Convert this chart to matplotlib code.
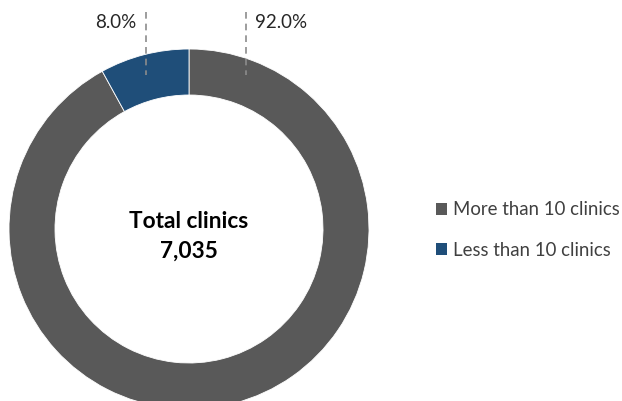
import matplotlib
matplotlib.use("Agg")
import matplotlib.pyplot as plt
from matplotlib.patches import Patch

categories = ["More than 10 clinics", "Less than 10 clinics"]
values = [92.0, 8.0]
colors = ["#595959", "#1F4E79"]
total_label = "Total clinics"
total_value = "7,035"

plt.rcParams['font.family'] = ['Lato', 'DejaVu Sans']

W, H = 622, 401
fig = plt.figure(figsize=(W / 100, H / 100), dpi=100)
ax = fig.add_axes([0, 0, 1, 1])

cx, cy = 189, H - 229
R = 180
wedges, _ = ax.pie(values, colors=colors, startangle=90, counterclock=False,
                   radius=R, center=(cx, cy), frame=True,
                   wedgeprops=dict(width=46, edgecolor='white', linewidth=0.6))
ax.set_xlim(0, W)
ax.set_ylim(0, H)
ax.set_aspect('equal')
ax.axis('off')

# labels with dashed leader lines
for x, lbl, ha, tx in [(146, f"{values[1]:.1f}%", 'right', 136), (246, f"{values[0]:.1f}%", 'left', 255)]:
    ax.plot([x, x], [H - 12, H - 75], ls=(0, (4, 3)), color='#8C8C8C', lw=1.2)
    ax.text(tx, H - 22, lbl, ha=ha, va='center', fontsize=13.5, color='#262626')

ax.text(cx, H - 221, total_label, ha='center', va='center', fontsize=16.3, fontweight='bold', color='black')
ax.text(cx, H - 251, total_value, ha='center', va='center', fontsize=16.3, fontweight='bold', color='black')

handles = [Patch(facecolor=c, edgecolor='none') for c in colors]
leg = ax.legend(handles, categories, loc='center left', bbox_to_anchor=(436 / W, 1 - 230 / H),
                frameon=False, fontsize=13.4, handlelength=0.6, handleheight=0.6,
                handletextpad=0.3, labelspacing=1.25, borderaxespad=0, borderpad=0)
for t in leg.get_texts():
    t.set_color('#404040')

fig.savefig("out.png", dpi=100)
